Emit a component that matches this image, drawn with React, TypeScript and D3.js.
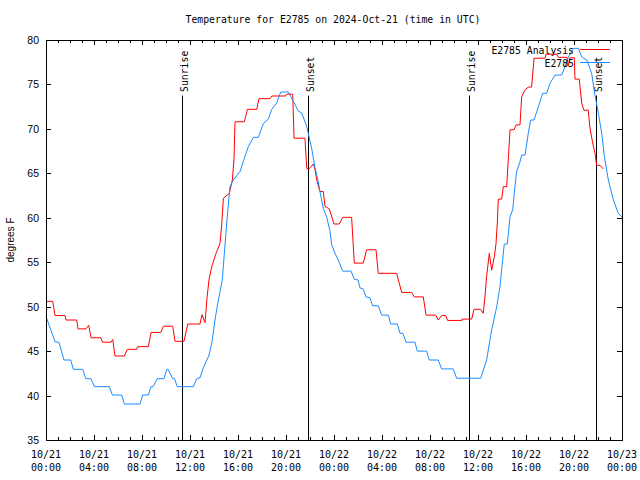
import React from "react";
import * as d3 from "d3";

const title = "Temperature for E2785 on 2024-Oct-21 (time in UTC)";
const yLabel = "degrees F";
const start = Date.UTC(2024, 9, 21, 0, 0);

// hours after 2024-10-21 00:00 UTC
const analysisHours = [0, 0.56, 0.75, 1.58, 1.67, 2.56, 2.67, 3.33, 3.56, 3.75, 4.58, 4.71, 5.42, 5.56, 5.75, 6.53, 6.78, 7.56, 7.63, 8.53, 8.75, 9.56, 9.78, 10.56, 10.75, 11.5, 11.81, 12.83, 13.0, 13.25, 13.42, 13.58, 13.81, 14.17, 14.5, 14.64, 14.78, 15.28, 15.53, 15.67, 15.75, 16.53, 16.78, 17.56, 17.75, 18.67, 18.81, 19.92, 20.08, 20.56, 20.67, 21.58, 21.73, 21.92, 22.28, 22.42, 22.56, 22.83, 23.11, 23.25, 23.61, 24.0, 24.44, 24.72, 25.47, 25.69, 26.44, 26.72, 27.5, 27.69, 29.22, 29.64, 30.47, 30.69, 31.44, 31.67, 32.47, 32.69, 32.97, 33.31, 33.47, 34.64, 34.67, 35.47, 35.67, 36.22, 36.44, 36.58, 36.72, 36.94, 37.14, 37.36, 37.5, 37.61, 37.69, 37.97, 38.11, 38.39, 38.53, 38.67, 39.0, 39.17, 39.5, 39.64, 39.92, 40.19, 40.47, 40.67, 41.58, 41.67, 42.56, 42.69, 43.42, 43.53, 43.67, 44.03, 44.08, 44.44, 44.64, 44.83, 45.19, 45.33, 45.56, 45.75, 45.89, 46.17, 46.44];
const analysisTemps = [50.6, 50.6, 49.0, 49.0, 48.5, 48.5, 47.5, 47.5, 47.9, 46.5, 46.5, 46.0, 46.0, 46.3, 44.45, 44.45, 45.2, 45.2, 45.5, 45.5, 47.1, 47.1, 47.8, 47.8, 46.1, 46.1, 48.05, 48.05, 49.1, 48.2, 51.0, 53.0, 54.5, 56.0, 57.1, 59.2, 62.2, 62.75, 64.25, 66.7, 70.8, 70.8, 72.2, 72.2, 73.4, 73.4, 73.7, 73.7, 73.9, 73.9, 68.95, 68.95, 65.55, 65.5, 66.05, 65.4, 64.25, 62.95, 62.95, 61.3, 61.0, 59.3, 59.3, 60.05, 60.05, 54.9, 54.9, 56.4, 56.4, 53.75, 53.75, 51.6, 51.6, 51.1, 51.1, 49.05, 49.05, 48.5, 49.0, 49.0, 48.45, 48.45, 48.6, 48.6, 49.7, 49.7, 49.25, 51.1, 53.4, 56.0, 54.1, 55.6, 57.1, 59.4, 62.1, 62.1, 63.5, 63.5, 66.7, 69.9, 69.9, 70.45, 70.45, 73.6, 74.4, 74.7, 74.7, 77.95, 77.95, 78.4, 78.4, 78.05, 78.05, 77.1, 78.0, 78.0, 75.6, 75.6, 72.9, 72.1, 72.1, 70.1, 68.4, 67.25, 65.9, 65.9, 65.5];

const observedHours = [0, 0.75, 1.08, 1.5, 2.06, 2.28, 3.06, 3.31, 3.75, 4.03, 5.28, 5.53, 6.31, 6.53, 7.83, 8.06, 8.53, 8.75, 8.92, 9.28, 9.83, 10.06, 10.17, 10.56, 10.71, 10.94, 12.28, 12.56, 12.83, 13.08, 13.33, 13.58, 13.83, 14.08, 14.33, 14.69, 15.06, 15.33, 15.61, 16.17, 16.58, 16.86, 17.28, 17.69, 18.11, 18.53, 18.81, 19.22, 19.56, 20.19, 20.61, 21.03, 21.31, 21.73, 22.14, 22.42, 22.69, 22.83, 23.11, 23.39, 23.67, 23.81, 24.08, 24.36, 24.72, 25.42, 25.69, 26.0, 26.17, 26.42, 26.67, 27.0, 27.22, 27.69, 27.97, 28.53, 28.72, 29.28, 29.5, 29.75, 30.0, 30.75, 30.94, 31.72, 31.94, 32.69, 32.97, 33.94, 34.22, 36.22, 36.72, 37.14, 37.56, 37.83, 38.11, 38.19, 38.44, 38.67, 38.89, 39.08, 39.22, 39.5, 39.64, 39.92, 40.19, 40.39, 40.67, 41.03, 41.39, 41.72, 42.0, 42.42, 42.97, 43.25, 43.53, 43.94, 44.36, 44.64, 45.06, 45.47, 45.75, 46.03, 46.31, 46.53, 46.86, 47.28, 47.69, 48.0];
const observedTemps = [48.9, 46.05, 46.0, 44.0, 44.0, 42.95, 42.95, 41.9, 41.9, 41.0, 41.0, 40.06, 40.06, 39.05, 39.05, 40.06, 40.06, 41.0, 41.0, 41.9, 41.9, 42.95, 42.95, 41.9, 41.9, 41.0, 41.0, 41.9, 42.0, 43.0, 43.8, 44.5, 46.0, 48.5, 50.5, 53.0, 59.4, 63.5, 64.25, 65.2, 66.9, 68.0, 69.05, 69.05, 70.6, 71.1, 72.2, 72.9, 74.15, 74.15, 73.1, 72.0, 71.8, 70.25, 67.8, 65.6, 64.1, 62.95, 61.05, 60.1, 58.45, 56.95, 56.0, 55.25, 54.0, 54.0, 53.1, 53.0, 52.1, 52.0, 51.1, 51.0, 50.1, 50.1, 49.05, 49.05, 48.05, 48.05, 47.0, 47.0, 46.0, 46.0, 45.0, 45.0, 44.0, 44.0, 43.0, 43.0, 41.95, 41.95, 44.0, 47.4, 50.0, 52.25, 56.0, 57.05, 57.05, 60.1, 60.9, 63.5, 65.2, 66.3, 67.06, 67.06, 69.5, 71.0, 71.0, 72.5, 74.0, 74.0, 75.13, 76.06, 76.06, 77.0, 78.05, 79.06, 79.06, 78.1, 77.75, 76.25, 73.8, 71.75, 69.5, 66.9, 64.25, 62.0, 60.5, 60.1];

const sunEventHours = [11.35, 21.85, 35.28, 45.81];
const sunEventLabels = ["Sunrise", "Sunset", "Sunrise", "Sunset"];

const seriesNames = ["E2785 Analysis", "E2785"];
const seriesColors = ["#ff0000", "#1a8cff"];

const yTicks = [35, 40, 45, 50, 55, 60, 65, 70, 75, 80];

const W = 640, H = 480;
const L = 46, R = 622, T = 40, B = 440;

const toDate = (h: number) => new Date(start + h * 3600000);

export default function App() {
  const x = d3.scaleUtc().domain([toDate(0), toDate(48)]).range([L, R]);
  const y = d3.scaleLinear().domain([35, 80]).range([B, T]);
  const majorTicks = x.ticks(d3.utcHour.every(4)!);
  const minorTicks = x.ticks(d3.utcHour.every(1)!);
  const fmtDay = d3.utcFormat("%m/%d");
  const fmtTime = d3.utcFormat("%H:%M");

  const line = d3
    .line<[number, number]>()
    .x((d) => x(toDate(d[0])))
    .y((d) => y(d[1]));

  const analysis = analysisHours.map((h, i) => [h, analysisTemps[i]] as [number, number]);
  const observed = observedHours.map((h, i) => [h, observedTemps[i]] as [number, number]);

  const mono = "'DejaVu Sans Mono', monospace";
  const sans = "'Liberation Sans', Arial, sans-serif";

  return (
    <svg
      width={W}
      height={H}
      style={{ position: "absolute", left: 0, top: 0, background: "#fff" }}
    >
      <rect width={W} height={H} fill="#fff" />
      <text x={333} y={23} textAnchor="middle" fontFamily={mono} fontSize={9.8} fill="#000">
        {title}
      </text>
      {/* y ticks */}
      {yTicks.map((t) => (
        <g key={"y" + t}>
          <line x1={L} x2={L + 5} y1={Math.round(y(t)) + 0.5} y2={Math.round(y(t)) + 0.5} stroke="#000" />
          <line x1={R - 5} x2={R} y1={Math.round(y(t)) + 0.5} y2={Math.round(y(t)) + 0.5} stroke="#000" />
          <text x={39} y={y(t) + 4} textAnchor="end" fontFamily={sans} fontSize={10.5} fill="#000">
            {t}
          </text>
        </g>
      ))}
      {/* x minor ticks */}
      {minorTicks.map((d, i) => {
        const xx = Math.round(x(d)) + 0.5;
        const len = d.getUTCHours() % 4 === 0 ? 5 : 3;
        return (
          <g key={"xm" + i}>
            <line x1={xx} x2={xx} y1={B} y2={B - len} stroke="#000" />
            <line x1={xx} x2={xx} y1={T} y2={T + len} stroke="#000" />
          </g>
        );
      })}
      {majorTicks.map((d, i) => (
        <g key={"xl" + i} fontFamily={mono} fontSize={10} fill="#000">
          <text x={x(d)} y={458} textAnchor="middle">{fmtDay(d)}</text>
          <text x={x(d)} y={471} textAnchor="middle">{fmtTime(d)}</text>
        </g>
      ))}
      <text
        transform={`translate(14,${(T + B) / 2}) rotate(-90)`}
        textAnchor="middle"
        fontFamily={sans}
        fontSize={10}
        fill="#000"
      >
        {yLabel}
      </text>
      {/* sun events */}
      {sunEventHours.map((h, i) => {
        const xx = Math.round(x(toDate(h))) + 0.5;
        return (
          <g key={"s" + i}>
            <line x1={xx} x2={xx} y1={y(73.75)} y2={B} stroke="#000" />
            <text
              transform={`translate(${xx + 5},92) rotate(-90)`}
              fontFamily={mono}
              fontSize={9.8}
              fill="#000"
            >
              {sunEventLabels[i]}
            </text>
          </g>
        );
      })}
      <path d={line(analysis) || ""} fill="none" stroke={seriesColors[0]} strokeWidth={1} />
      <path d={line(observed) || ""} fill="none" stroke={seriesColors[1]} strokeWidth={1} />
      {/* legend */}
      {seriesNames.map((n, i) => (
        <g key={"lg" + i}>
          <text x={574} y={53.5 + i * 13} textAnchor="end" fontFamily={mono} fontSize={9.8} fill="#000">
            {n}
          </text>
          <line x1={580} x2={610} y1={49.5 + i * 13} y2={49.5 + i * 13} stroke={seriesColors[i]} />
        </g>
      ))}
      <rect x={L + 0.5} y={T + 0.5} width={R - L} height={B - T} fill="none" stroke="#000" />
    </svg>
  );
}
